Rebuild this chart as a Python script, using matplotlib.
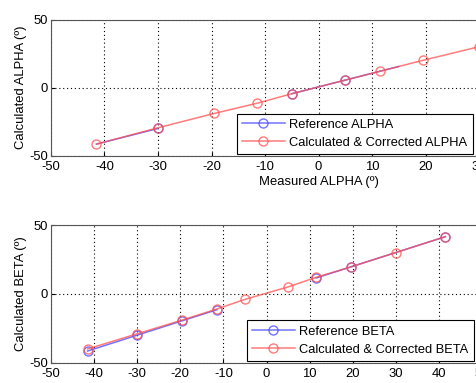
import numpy as np
import matplotlib.pyplot as plt

plt.rcParams['font.family'] = ['Liberation Sans', 'DejaVu Sans']
plt.rcParams['font.size'] = 9.4
plt.rcParams['axes.unicode_minus'] = False

nan = np.nan

# ALPHA data
alpha_ref_x = [-41.5, -30, nan, -5, 5, 15]
alpha_ref_y = [-41.5, -30, nan, -4.5, 5.5, 15.5]
alpha_cal_x = [-41.5, -30, -19.5, -11.5, -5, 5, 11.5, 19.5, 30, 41.5]
alpha_cal_y = [-41.5, -29.5, -19, -11.5, -4.5, 5.5, 12, 20, 30, 41.5]
alpha_ref_mk = [-30, -5, 5]
alpha_ref_mk_y = [-30, -4.5, 5.5]

# BETA data
beta_ref_x = [-41.5, -30, -19.5, -11.5, nan, 11.5, 19.5, 41.5]
beta_ref_y = [-41.5, -30, -19.5, -11.5, nan, 11.5, 19.5, 41.5]
beta_cal_x = [-41.5, -30, -19.5, -11.5, -5, 5, 11.5, 19.5, 30, 41.5]
beta_cal_y = [-40, -29, -19, -11, -4, 5, 12, 19.5, 30, 41.5]

ticks_x = np.arange(-50, 51, 10)
ticks_y = [-50, 0, 50]

blue = '#5050ff'
red = '#ff5050'

fig = plt.figure(figsize=(4.76, 3.83), dpi=100)

ax1 = fig.add_axes([51 / 476, 1 - 155.7 / 383, 535 / 476, 136.2 / 383])
ax2 = fig.add_axes([51 / 476, 1 - 362.7 / 383, 431 / 476, 137.7 / 383])


def style(ax):
    ax.set_xlim(-50, 50)
    ax.set_ylim(-50, 50)
    ax.set_xticks(ticks_x)
    ax.set_yticks(ticks_y)
    ax.grid(True, linestyle=(0, (1, 2.5)), color='black', linewidth=0.8)
    ax.tick_params(direction='in', length=3, colors='black')
    ax.tick_params(axis='x', pad=4)
    ax.tick_params(axis='y', pad=2)
    for s in ax.spines.values():
        s.set_color('#555555')
        s.set_linewidth(0.8)


# top plot
ax1.plot(alpha_ref_x, alpha_ref_y, '-', color=blue, lw=1.1, alpha=0.8)
ax1.plot(alpha_ref_mk, alpha_ref_mk_y, 'o', color=blue, mfc='none',
         ms=6.5, mew=1, alpha=0.8)
ax1.plot(alpha_cal_x, alpha_cal_y, '-o', color=red, mfc='none', ms=6.5,
         mew=1, lw=1.1, alpha=0.75)
style(ax1)
ax1.set_xlabel('Measured ALPHA (º)', labelpad=2)
ax1.set_ylabel('Calculated ALPHA (º)', labelpad=2)
h_ref = plt.Line2D([], [], color=blue, marker='o', mfc='none', ms=6.5, lw=1.1, alpha=0.8)
h_cal = plt.Line2D([], [], color=red, marker='o', mfc='none', ms=6.5, lw=1.1, alpha=0.75)
leg_kw = dict(loc='lower left', bbox_transform=fig.transFigure, fancybox=False,
              edgecolor='black', framealpha=1, handlelength=3.3, borderpad=0.4,
              labelspacing=0.45, handletextpad=0.35, borderaxespad=0, fontsize=9.3)
leg1 = ax1.legend([h_ref, h_cal], ['Reference ALPHA', 'Calculated & Corrected ALPHA'],
                  bbox_to_anchor=(237 / 476, 1 - 154 / 383), **leg_kw)
leg1.get_frame().set_linewidth(0.8)

# bottom plot
ax2.plot(beta_ref_x, beta_ref_y, '-o', color=blue, mfc='none', ms=6.5,
         mew=1, lw=1.1, alpha=0.8)
ax2.plot(beta_cal_x, beta_cal_y, '-o', color=red, mfc='none', ms=6.5,
         mew=1, lw=1.1, alpha=0.75)
style(ax2)
ax2.set_ylabel('Calculated BETA (º)', labelpad=2)
leg2 = ax2.legend([h_ref, h_cal], ['Reference BETA', 'Calculated & Corrected BETA'],
                  bbox_to_anchor=(247 / 476, 1 - 360.7 / 383), **leg_kw)
leg2.get_frame().set_linewidth(0.8)

fig.savefig('out.png', dpi=100)
